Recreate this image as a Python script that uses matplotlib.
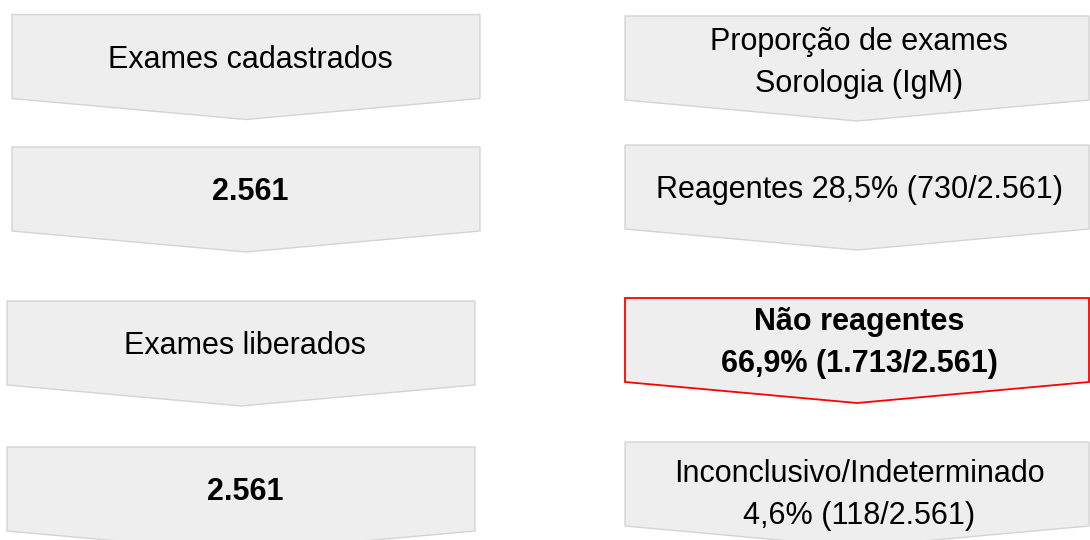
import matplotlib.pyplot as plt
from matplotlib.patches import Polygon

# Textos das caixas
esquerda = [['Exames cadastrados'], ['2.561'], ['Exames liberados'], ['2.561']]
esquerda_negrito = [False, True, False, True]

direita = [['Proporção de exames', 'Sorologia (IgM)'],
           ['Reagentes 28,5% (730/2.561)'],
           ['Não reagentes', '66,9% (1.713/2.561)'],
           ['Inconclusivo/Indeterminado', '4,6% (118/2.561)']]
direita_negrito = [False, False, True, False]
destaque = 2  # caixa da direita com borda vermelha

# Layout (pixels)
topo_esq = [14.5, 147, 301, 447]
x_esq = [(12, 480), (12, 480), (7, 475), (7, 475)]
topo_dir = [16, 145, 298, 442]
desloc_dir = [2, 0, 0, 8]
x_dir = (625, 1089)
altura = 84
ponta = 21

fig = plt.figure(figsize=(10.9, 5.4), dpi=100)
ax = fig.add_axes([0, 0, 1, 1])
ax.set_xlim(0, 1090)
ax.set_ylim(540, 0)
ax.axis('off')


def seta(x0, x1, y0, borda='#d4d4d4', lw=1.0):
    xm = (x0 + x1) / 2
    pts = [(x0, y0), (x1, y0), (x1, y0 + altura), (xm, y0 + altura + ponta), (x0, y0 + altura)]
    ax.add_patch(Polygon(pts, closed=True, facecolor='#eeeeee', edgecolor=borda, lw=lw,
                         joinstyle='miter'))
    return xm, y0 + altura / 2


def texto(xc, yc, linhas, negrito):
    passo = 42
    n = len(linhas)
    for i, linha in enumerate(linhas):
        y = yc + (i - (n - 1) / 2) * passo + 11
        ax.text(xc, y, linha, ha='center', va='baseline', fontsize=22,
                fontweight='bold' if negrito else 'normal',
                family='Liberation Sans', color='black')


for i, linhas in enumerate(esquerda):
    xc, yc = seta(x_esq[i][0], x_esq[i][1], topo_esq[i])
    texto(xc + 4, yc, linhas, esquerda_negrito[i])

for i, linhas in enumerate(direita):
    if i == destaque:
        xc, yc = seta(x_dir[0], x_dir[1], topo_dir[i], borda='#ff0000', lw=1.3)
    else:
        xc, yc = seta(x_dir[0], x_dir[1], topo_dir[i])
    texto(xc + 2, yc + desloc_dir[i], linhas, direita_negrito[i])

fig.savefig('out.png', dpi=100, facecolor='white')
